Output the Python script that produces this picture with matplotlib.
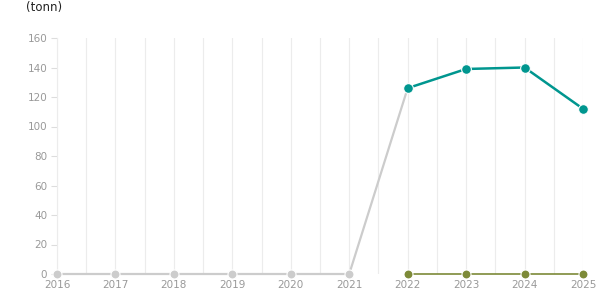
import matplotlib
matplotlib.use("Agg")
import matplotlib.pyplot as plt
import numpy as np

years = [2016, 2017, 2018, 2019, 2020, 2021, 2022, 2023, 2024, 2025]
grey_years = [2016, 2017, 2018, 2019, 2020, 2021, 2022]
grey_vals = [0, 0, 0, 0, 0, 0, 126]
teal_years = [2022, 2023, 2024, 2025]
teal_vals = [126, 139, 140, 112]
olive_years = [2022, 2023, 2024, 2025]
olive_vals = [0, 0, 0, 0]
yticks = [0, 20, 40, 60, 80, 100, 120, 140, 160]

GREY = "#cccccc"
TEAL = "#00968f"
OLIVE = "#7d8a38"
LABEL = "#999999"

fig = plt.figure(figsize=(6.15, 3.05), dpi=100)
ax = fig.add_axes([57 / 615, 31 / 305, 526 / 615, 236 / 305])

# vertical grid at every year and half-year
for x in np.arange(2016, 2025.01, 0.5):
    ax.axvline(x, color="#ececec", linewidth=0.8, zorder=0)

ax.plot(grey_years[:-1], grey_vals[:-1], color=GREY, linewidth=1.6,
        marker="o", markersize=6.5, markeredgecolor="white", markeredgewidth=0.8,
        clip_on=False, zorder=3)
ax.plot(grey_years[-2:], grey_vals[-2:], color=GREY, linewidth=1.6, zorder=2)
ax.plot(olive_years, olive_vals, color=OLIVE, linewidth=1.2,
        marker="o", markersize=6.5, markeredgecolor="white", markeredgewidth=0.8,
        clip_on=False, zorder=4)
ax.plot(teal_years, teal_vals, color=TEAL, linewidth=1.8,
        marker="o", markersize=7, markeredgecolor="white", markeredgewidth=0.8,
        clip_on=False, zorder=5)

ax.set_xlim(2016, 2025)
ax.set_ylim(0, 160)
ax.set_xticks(years)
ax.set_xticklabels([str(y) for y in years])
ax.set_yticks(yticks)
ax.tick_params(axis="x", length=0, pad=4, labelsize=7.5, labelcolor=LABEL)
ax.tick_params(axis="y", length=4, width=0.8, color="#dddddd", pad=3,
               labelsize=7.5, labelcolor=LABEL)
for side in ["top", "right", "bottom"]:
    ax.spines[side].set_visible(False)
ax.spines["left"].set_color("#ececec")

fig.text(26 / 615, 1 - 8 / 305, "(tonn)", fontsize=8.5, color="#222222",
         ha="left", va="center")

fig.savefig("out.png", dpi=100)
